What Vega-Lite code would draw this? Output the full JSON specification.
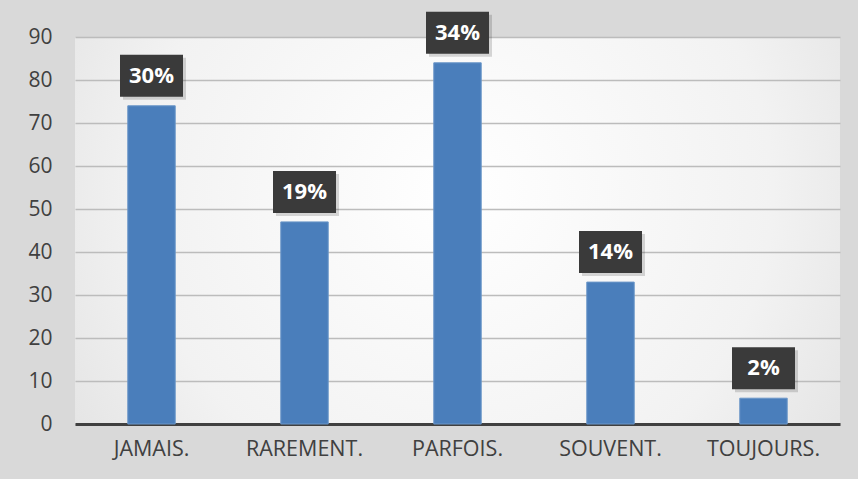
{
  "$schema": "https://vega.github.io/schema/vega-lite/v6.json",
  "autosize": {"type": "none"},
  "width": 765,
  "height": 387,
  "padding": {"left": 75, "top": 37, "right": 18, "bottom": 55},
  "background": "#d9d9d9",
  "config": {
    "view": {
      "stroke": null,
      "fill": {
        "gradient": "radial",
        "x1": 0.5, "y1": 0.45, "r1": 0,
        "x2": 0.5, "y2": 0.45, "r2": 0.75,
        "stops": [{"offset": 0, "color": "#ffffff"}, {"offset": 0.55, "color": "#f2f2f2"}, {"offset": 1, "color": "#d9d9d9"}]
      }
    },
    "font": "Open Sans"
  },
  "data": {
    "values": [
      {"cat": "JAMAIS.", "n": 74, "pct": "30%"},
      {"cat": "RAREMENT.", "n": 47, "pct": "19%"},
      {"cat": "PARFOIS.", "n": 84, "pct": "34%"},
      {"cat": "SOUVENT.", "n": 33, "pct": "14%"},
      {"cat": "TOUJOURS.", "n": 6, "pct": "2%"}
    ]
  },
  "encoding": {
    "x": {
      "field": "cat", "type": "nominal", "sort": null,
      "scale": {"paddingInner": 0.69, "paddingOuter": 0.345},
      "axis": {
        "title": null, "labelAngle": 0, "labelFontSize": 21.5, "labelColor": "#404040",
        "labelPadding": 14, "ticks": false, "domainColor": "#404040", "domainWidth": 3
      }
    },
    "y": {
      "field": "n", "type": "quantitative",
      "scale": {"domain": [0, 90], "nice": false},
      "axis": {
        "title": null, "values": [0, 10, 20, 30, 40, 50, 60, 70, 80, 90],
        "labelFontSize": 21, "labelColor": "#404040", "labelPadding": 23,
        "ticks": false, "domain": false, "gridColor": "#bcbcbc", "gridWidth": 1.3
      }
    }
  },
  "layer": [
    {"mark": {"type": "bar", "color": "#4a7ebb", "stroke": "#6a96c8", "strokeWidth": 1}},
    {
      "mark": {"type": "point", "shape": "M-1,-0.667H1V0.667H-1Z", "size": 3969, "filled": true, "color": "#000000", "opacity": 0.15, "yOffset": -27, "xOffset": 3}
    },
    {
      "mark": {"type": "point", "shape": "M-1,-0.667H1V0.667H-1Z", "size": 3969, "filled": true, "color": "#3a3a3a", "opacity": 1, "yOffset": -30}
    },
    {
      "mark": {"type": "text", "color": "#ffffff", "fontSize": 22, "fontWeight": "bold", "baseline": "middle", "dy": -30},
      "encoding": {"text": {"field": "pct"}}
    }
  ]
}
